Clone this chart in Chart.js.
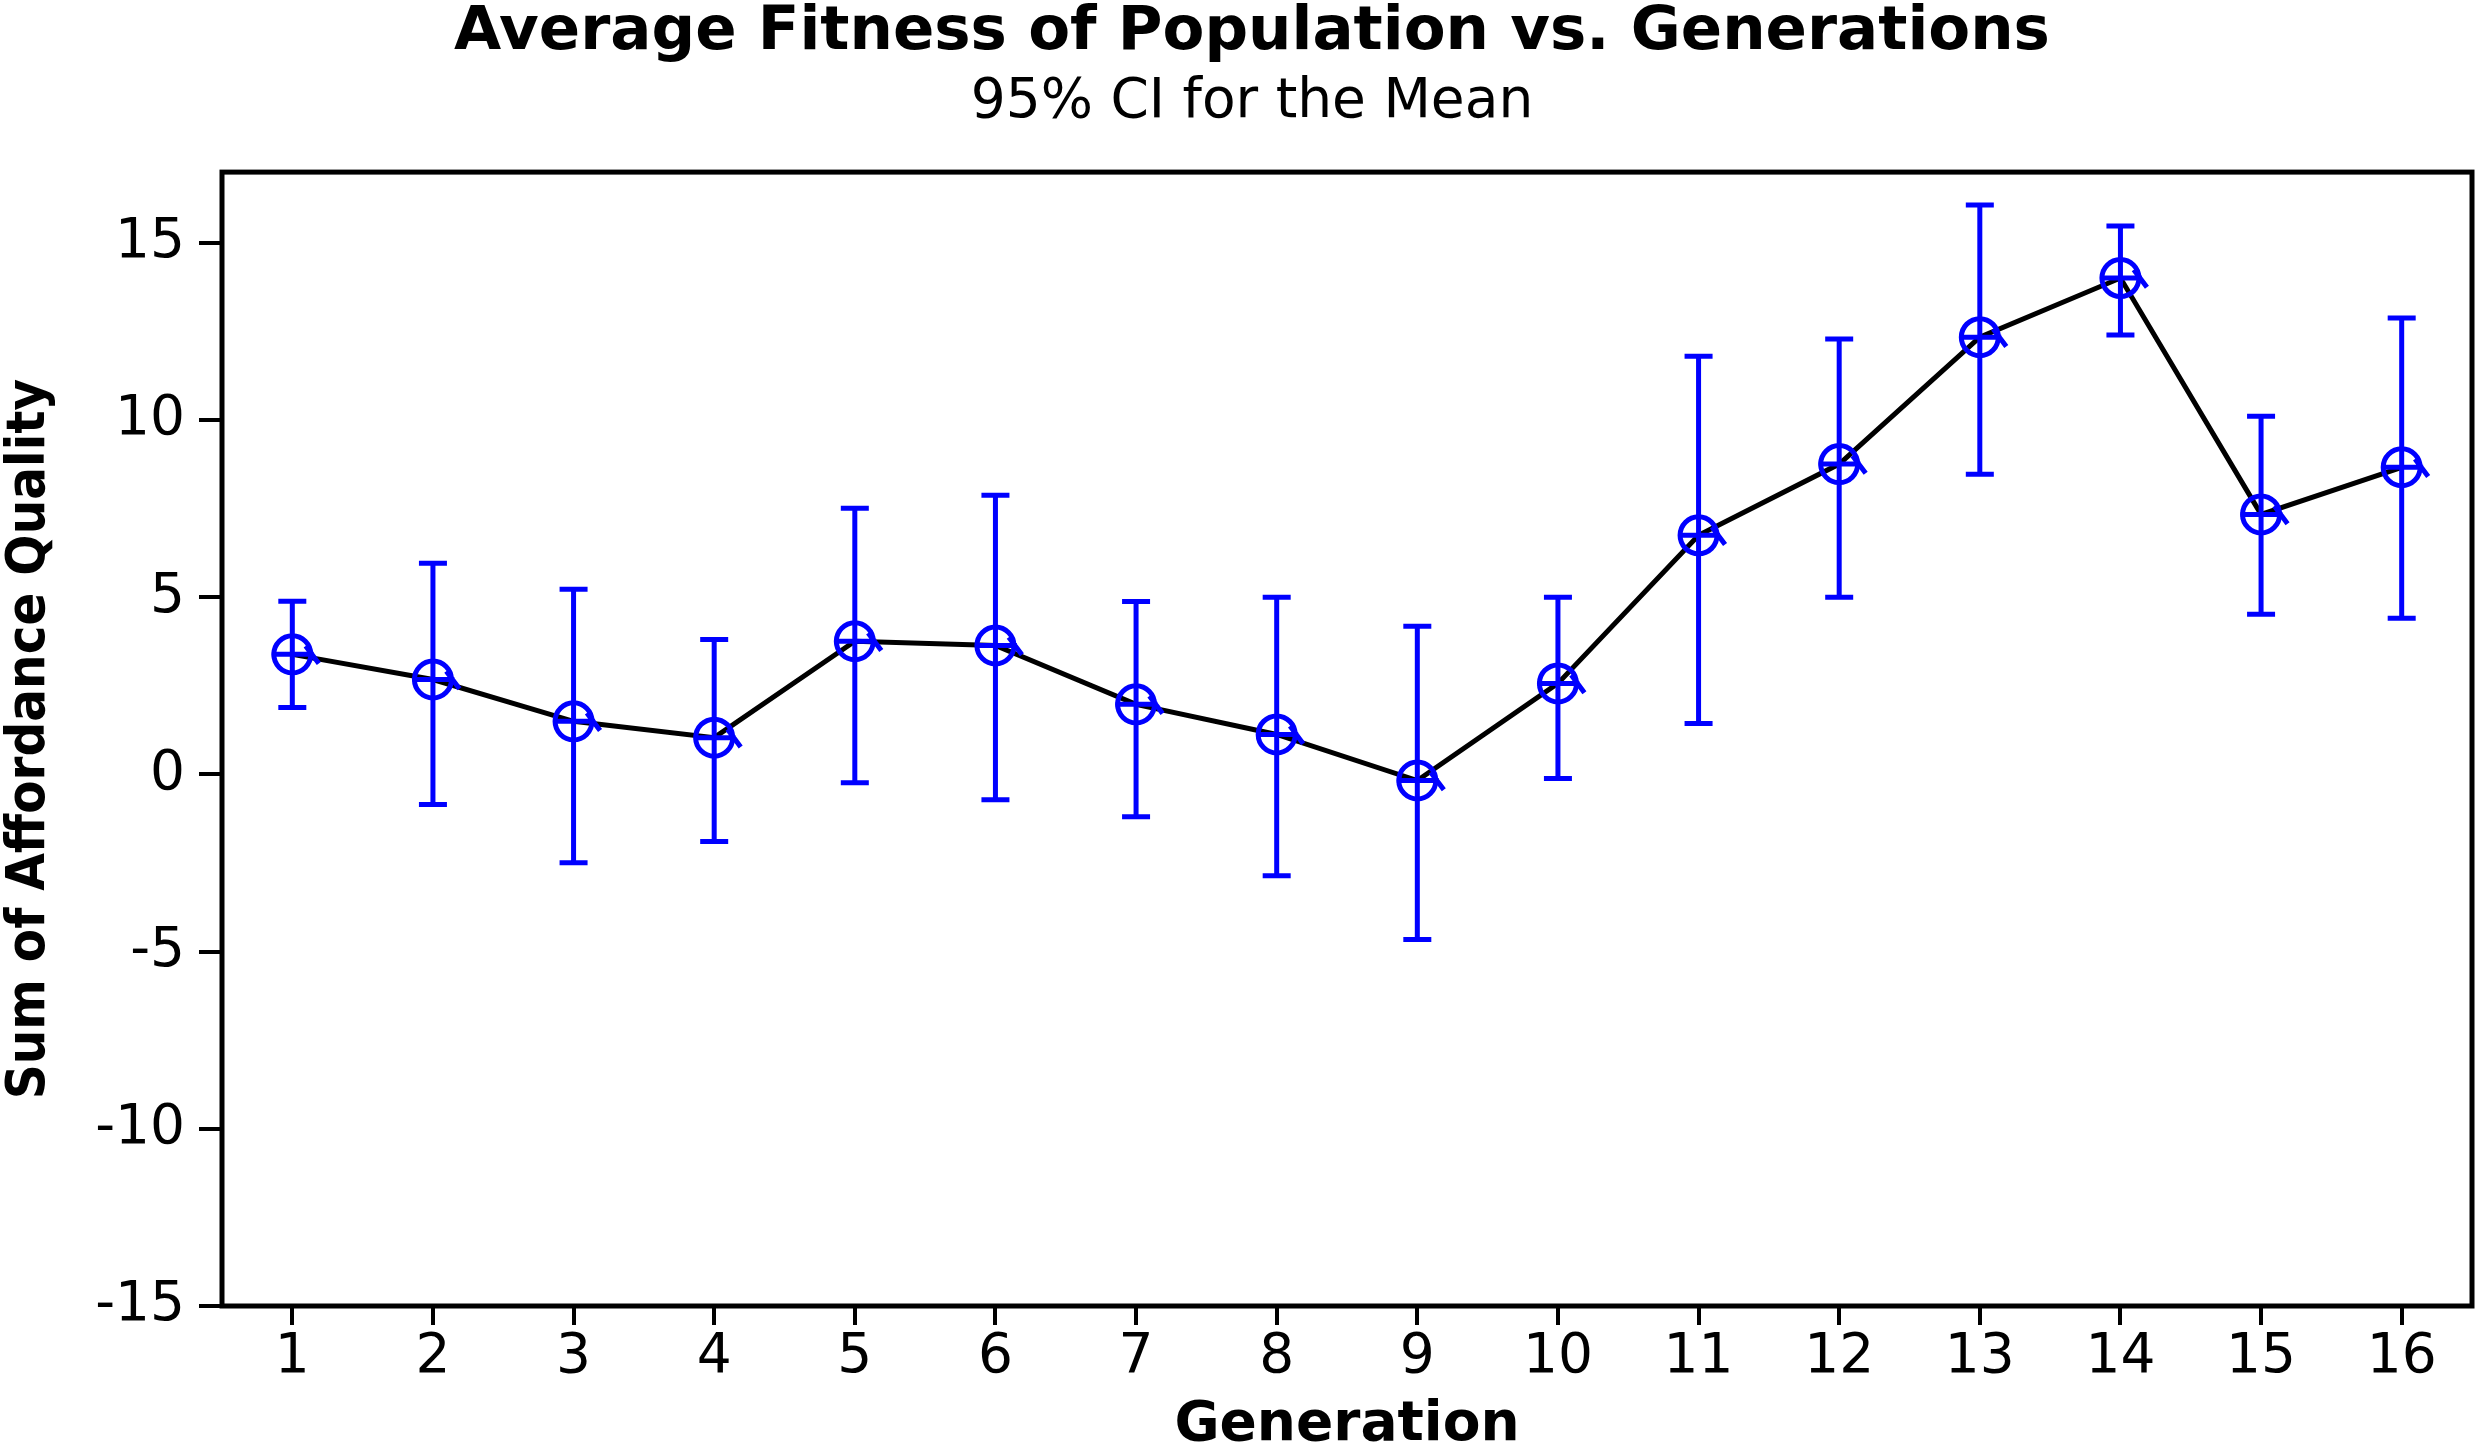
<!DOCTYPE html>
<html>
<head>
<meta charset="utf-8">
<script src="https://cdn.jsdelivr.net/npm/chart.js@4.4.1/dist/chart.umd.min.js"></script>
<style>
  html, body { margin: 0; padding: 0; background: #ffffff; }
  #wrap { width: 2478px; height: 1450px; position: relative; }
</style>
</head>
<body>
<div id="wrap"><canvas id="c"></canvas></div>
<script>
// ---- data ----
const generations = [1, 2, 3, 4, 5, 6, 7, 8, 9, 10, 11, 12, 13, 14, 15, 16];
const means = [3.39, 2.68, 1.50, 1.04, 3.76, 3.64, 1.98, 1.13, -0.17, 2.57, 6.75, 8.76, 12.34, 14.01, 7.34, 8.67];
const lowerCI = [1.89, -0.85, -2.49, -1.89, -0.23, -0.71, -1.19, -2.86, -4.66, -0.11, 1.44, 5.00, 8.47, 12.40, 4.52, 4.41];
const upperCI = [4.89, 5.96, 5.23, 3.81, 7.51, 7.88, 4.88, 5.00, 4.18, 5.00, 11.80, 12.29, 16.07, 15.48, 10.11, 12.88];
const yTickValues = [-15, -10, -5, 0, 5, 10, 15];
const xTickValues = generations;

const titleText = 'Average Fitness of Population vs. Generations';
const subtitleText = '95% CI for the Mean';
const xTitle = 'Generation';
const yTitle = 'Sum of Affordance Quality';

const BLUE = '#0000ff';
const BLACK = '#000000';

const points = generations.map((g, i) => ({ x: g, y: means[i] }));

const intervalPlugin = {
  id: 'intervalPlugin',
  beforeDatasetsDraw(chart) {
    const { ctx, chartArea: a } = chart;
    ctx.save();
    ctx.strokeStyle = BLACK;
    ctx.lineWidth = 5;
    ctx.strokeRect(a.left, a.top, a.right - a.left, a.bottom - a.top);
    ctx.restore();
  },
  afterDatasetsDraw(chart) {
    const { ctx } = chart;
    const xs = chart.scales.x, ys = chart.scales.y;
    ctx.save();
    ctx.strokeStyle = BLUE;
    ctx.lineWidth = 5;
    ctx.lineCap = 'butt';
    const capHalf = 14;
    generations.forEach((g, i) => {
      const px = xs.getPixelForValue(g);
      const pTop = ys.getPixelForValue(upperCI[i]);
      const pBot = ys.getPixelForValue(lowerCI[i]);
      const pm = ys.getPixelForValue(means[i]);
      ctx.beginPath();
      ctx.moveTo(px, pTop); ctx.lineTo(px, pBot);
      ctx.moveTo(px - capHalf, pTop); ctx.lineTo(px + capHalf, pTop);
      ctx.moveTo(px - capHalf, pBot); ctx.lineTo(px + capHalf, pBot);
      ctx.stroke();
      // circle with horizontal bar
      const r = 18.5;
      ctx.beginPath();
      ctx.arc(px, pm, r, 0, Math.PI * 2);
      ctx.stroke();
      ctx.beginPath();
      ctx.moveTo(px - r - 2, pm); ctx.lineTo(px + r + 3, pm);
      // small tail on the right
      ctx.moveTo(px + r * 0.72, pm - r * 0.45); ctx.lineTo(px + r + 8, pm + r * 0.5);
      ctx.stroke();
    });
    ctx.restore();
  }
};

new Chart(document.getElementById('c'), {
  type: 'line',
  data: {
    datasets: [{
      data: points,
      borderColor: BLACK,
      borderWidth: 5,
      pointRadius: 0,
      pointHoverRadius: 0,
      fill: false,
      tension: 0
    }]
  },
  options: {
    responsive: true,
    maintainAspectRatio: false,
    devicePixelRatio: 1,
    animation: false,
    events: [],
    layout: { padding: { left: 32, right: 6, top: 0, bottom: 0 } },
    plugins: {
      legend: { display: false },
      tooltip: { enabled: false },
      title: {
        display: true,
        text: titleText,
        color: BLACK,
        font: { family: 'DejaVu Sans', weight: 'bold', size: 61, lineHeight: 0.9 },
        padding: { top: 6, bottom: 0 }
      },
      subtitle: {
        display: true,
        text: subtitleText,
        color: BLACK,
        font: { family: 'DejaVu Sans', weight: 'normal', size: 55, lineHeight: 1 },
        padding: { top: 14.7, bottom: 41.5 }
      }
    },
    scales: {
      x: {
        type: 'linear',
        min: 0.5,
        max: 16.5,
        afterBuildTicks(scale) { scale.ticks = xTickValues.map(v => ({ value: v })); },
        afterFit(scale) { scale.height = 144; },
        grid: { drawOnChartArea: false, drawTicks: true, tickLength: 19, lineWidth: 4, color: BLACK, tickColor: BLACK },
        border: { display: false },
        ticks: { color: BLACK, padding: 0, maxRotation: 0, autoSkip: false,
                 font: { family: 'DejaVu Sans', size: 55, lineHeight: 1.2 } },
        title: { display: true, text: xTitle, color: BLACK, padding: { top: 0, bottom: -3 },
                 font: { family: 'DejaVu Sans', weight: 'bold', size: 55, lineHeight: 1 } }
      },
      y: {
        type: 'linear',
        min: -15,
        max: 17,
        afterBuildTicks(scale) { scale.ticks = yTickValues.map(v => ({ value: v })); },
        afterFit(scale) { scale.width = 190; },
        grid: { drawOnChartArea: false, drawTicks: true, tickLength: 23, lineWidth: 4, color: BLACK, tickColor: BLACK },
        border: { display: false },
        ticks: { color: BLACK, padding: 14, autoSkip: false,
                 font: { family: 'DejaVu Sans', size: 55, lineHeight: 1.2 } },
        title: { display: true, text: yTitle, color: BLACK, padding: { top: -29, bottom: 0 },
                 font: { family: 'DejaVu Sans Condensed', weight: 'bold', size: 54, lineHeight: 1 } }
      }
    }
  },
  plugins: [intervalPlugin]
});
</script>
</body>
</html>
